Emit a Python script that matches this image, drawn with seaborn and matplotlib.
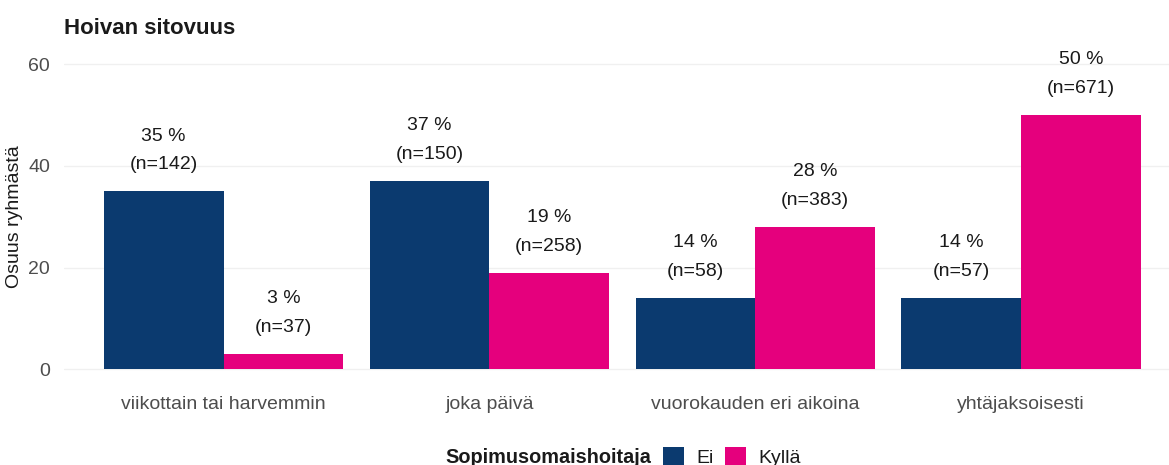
import matplotlib
matplotlib.use("Agg")
import matplotlib.pyplot as plt
import seaborn as sns
import pandas as pd
from matplotlib.patches import Patch

categories = ["viikottain tai harvemmin", "joka päivä", "vuorokauden eri aikoina", "yhtäjaksoisesti"]
groups = ["Ei", "Kyllä"]
values_ei = [35, 37, 14, 14]
values_kylla = [3, 19, 28, 50]
n_ei = [142, 150, 58, 57]
n_kylla = [37, 258, 383, 671]
colors = {"Ei": "#0b3a6f", "Kyllä": "#e5007d"}

df = pd.DataFrame({
    "cat": categories * 2,
    "group": ["Ei"] * 4 + ["Kyllä"] * 4,
    "value": values_ei + values_kylla,
})

sns.set_theme(style="white")
plt.rcParams["font.family"] = ["Liberation Sans", "DejaVu Sans"]

fig = plt.figure(figsize=(11.69, 4.65), dpi=100)
ax = fig.add_axes([64 / 1169, (465 - 384.6) / 465, 1 - 64 / 1169, (384.6 - 49) / 465])

sns.barplot(data=df, x="cat", y="value", hue="group", order=categories, hue_order=groups,
            palette=colors, width=0.9, gap=0, ax=ax, legend=False, saturation=1,
            errorbar=None, linewidth=0)

labels = {"Ei": [f"{v} %\n(n={n})" for v, n in zip(values_ei, n_ei)],
          "Kyllä": [f"{v} %\n(n={n})" for v, n in zip(values_kylla, n_kylla)]}
for cont, g in zip(ax.containers, groups):
    texts = ax.bar_label(cont, labels=labels[g], padding=13, fontsize=14, color="#1a1a1a",
                         linespacing=1.9)
    for t in texts:
        t.set_multialignment("center")

ax.set_xlim(-0.6, (1169 - 224) / 265.7)
ax.set_ylim(-3, 63)
ax.set_yticks([0, 20, 40, 60])
ax.grid(axis="y", color="#f0f0f0", linewidth=1.0)
ax.grid(axis="x", visible=False)
ax.set_axisbelow(True)
for s in ax.spines.values():
    s.set_visible(False)
ax.tick_params(axis="both", length=0, labelsize=14, labelcolor="#4d4d4d")
ax.tick_params(axis="x", pad=8)
ax.tick_params(axis="y", pad=10)
ax.set_xlabel("")
ax.set_ylabel("Osuus ryhmästä", fontsize=14, color="#1a1a1a", labelpad=4)

fig.text(64 / 1169, 1 - 28 / 465, "Hoivan sitovuus", fontsize=16, fontweight="bold",
         color="#1a1a1a", va="center", ha="left")

fig.text(651 / 1169, 1 - 457 / 465, "Sopimusomaishoitaja", fontsize=14.3, fontweight="bold",
         color="#1a1a1a", va="center", ha="right")
handles = [Patch(facecolor=colors[g], edgecolor="none") for g in groups]
fig.legend(handles, groups, loc="center left", bbox_to_anchor=(663 / 1169, 1 - 457 / 465),
           ncol=2, frameon=False, fontsize=14, handlelength=1.1, handleheight=1.1,
           handletextpad=0.6, columnspacing=0.6, borderpad=0, borderaxespad=0,
           labelcolor="#1a1a1a")

fig.savefig("out.png", dpi=100)
